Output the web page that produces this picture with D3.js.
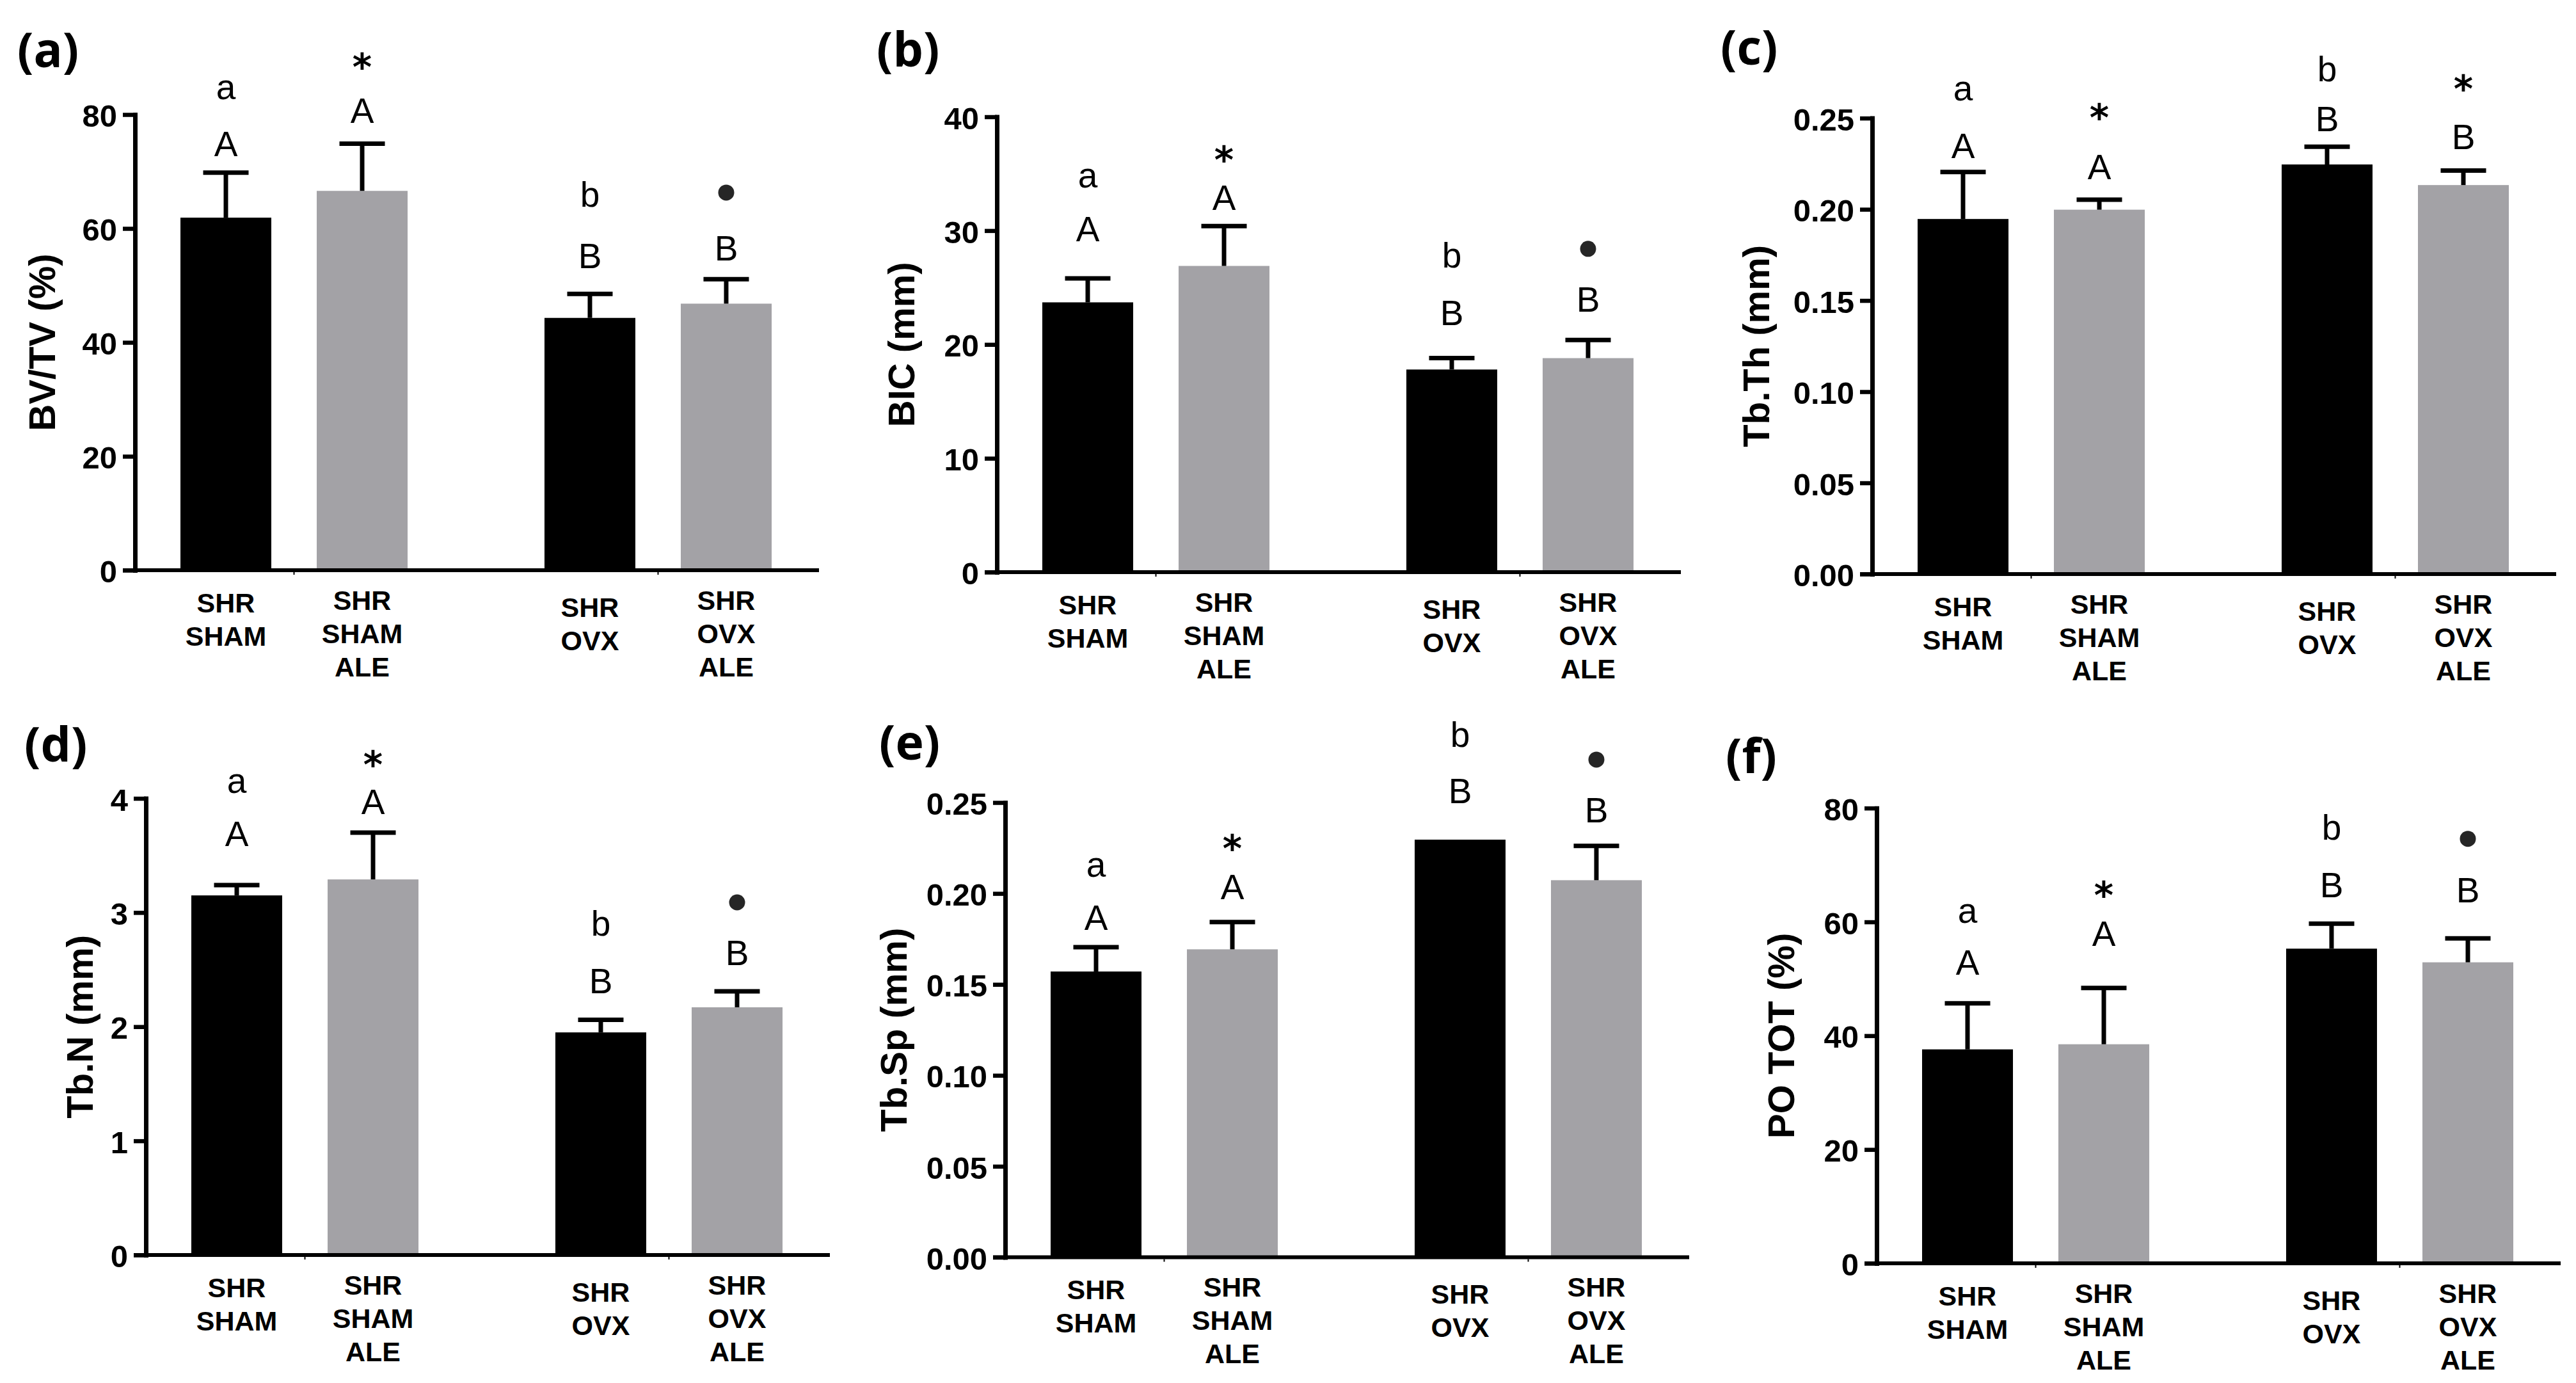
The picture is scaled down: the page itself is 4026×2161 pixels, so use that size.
<!DOCTYPE html>
<html>
<head>
<meta charset="utf-8">
<script src="https://cdn.jsdelivr.net/npm/d3@7"></script>
<style>
  html, body { margin: 0; padding: 0; background: #ffffff; }
  svg { display: block; }
</style>
</head>
<body>
<script>
// ---------------- DATA ----------------
const categories = [["SHR", "SHAM"], ["SHR", "SHAM", "ALE"], ["SHR", "OVX"], ["SHR", "OVX", "ALE"]];
const groups = ["SHAM", "OVX"];
const treatments = ["Vehicle", "ALE"];
const upperMarks = ["A", "A", "B", "B"];

// (a) BV/TV (%)
const bvtvMean = [61.9, 66.6, 44.3, 46.8];
const bvtvSem = [7.9, 8.3, 4.2, 4.3];
const bvtvLower = ["a", "*", "b", "●"];
const bvtvUpperY = [74.9, 80.8, 55.2, 56.6];
const bvtvLowerY = [84.3, 89.7, 66.1, 66.3];
const bvtvTicks = [0, 20, 40, 60, 80];

// (b) BIC (mm)
const bicMean = [23.7, 26.9, 17.8, 18.8];
const bicSem = [2.1, 3.5, 1.0, 1.6];
const bicLower = ["a", "*", "b", "●"];
const bicUpperY = [30.2, 32.9, 22.8, 24.0];
const bicLowerY = [34.6, 36.9, 27.9, 28.4];
const bicTicks = [0, 10, 20, 30, 40];

// (c) Tb.Th (mm)
const tbthMean = [0.1947, 0.1998, 0.2246, 0.2133];
const tbthSem = [0.0258, 0.0055, 0.0097, 0.0080];
const tbthLower = ["a", "*", "b", "*"];
const tbthUpperY = [0.2351, 0.2236, 0.2499, 0.2400];
const tbthLowerY = [0.2646, 0.2544, 0.2772, 0.2702];
const tbthTicks = [0, 0.05, 0.10, 0.15, 0.20, 0.25];

// (d) Tb.N (mm)
const tbnMean = [3.15, 3.29, 1.95, 2.17];
const tbnSem = [0.09, 0.41, 0.11, 0.14];
const tbnLower = ["a", "*", "b", "●"];
const tbnUpperY = [3.694, 3.975, 2.405, 2.652];
const tbnLowerY = [4.126, 4.361, 2.910, 3.089];
const tbnTicks = [0, 1, 2, 3, 4];

// (e) Tb.Sp (mm)
const tbspMean = [0.1571, 0.1693, 0.2296, 0.2073];
const tbspSem = [0.0134, 0.0150, 0, 0.0189];
const tbspLower = ["a", "*", "b", "●"];
const tbspUpperY = [0.1870, 0.2039, 0.2567, 0.2461];
const tbspLowerY = [0.2141, 0.2289, 0.2876, 0.2736];
const tbspTicks = [0, 0.05, 0.10, 0.15, 0.20, 0.25];

// (f) PO TOT (%)
const potMean = [37.6, 38.5, 55.3, 52.9];
const potSem = [8.1, 9.9, 4.4, 4.2];
const potLower = ["a", "*", "b", "●"];
const potUpperY = [52.9, 58.0, 66.5, 65.7];
const potLowerY = [61.4, 66.0, 76.7, 74.6];
const potTicks = [0, 20, 40, 60, 80];

const panels = [
  { tag: "(a)", yLabel: "BV/TV (%)", ticks: bvtvTicks, fmt: "d", mean: bvtvMean, sem: bvtvSem, lower: bvtvLower, upY: bvtvUpperY, lowY: bvtvLowerY },
  { tag: "(b)", yLabel: "BIC (mm)", ticks: bicTicks, fmt: "d", mean: bicMean, sem: bicSem, lower: bicLower, upY: bicUpperY, lowY: bicLowerY },
  { tag: "(c)", yLabel: "Tb.Th (mm)", ticks: tbthTicks, fmt: ".2f", mean: tbthMean, sem: tbthSem, lower: tbthLower, upY: tbthUpperY, lowY: tbthLowerY },
  { tag: "(d)", yLabel: "Tb.N (mm)", ticks: tbnTicks, fmt: "d", mean: tbnMean, sem: tbnSem, lower: tbnLower, upY: tbnUpperY, lowY: tbnLowerY },
  { tag: "(e)", yLabel: "Tb.Sp (mm)", ticks: tbspTicks, fmt: ".2f", mean: tbspMean, sem: tbspSem, lower: tbspLower, upY: tbspUpperY, lowY: tbspLowerY },
  { tag: "(f)", yLabel: "PO TOT (%)", ticks: potTicks, fmt: "d", mean: potMean, sem: potSem, lower: potLower, upY: potUpperY, lowY: potLowerY }
];

// ---------------- LAYOUT (positions / styles) ----------------
const W = 4026, H = 2161;
const layout = [
  { x: 211,  y0: 891,    top: 179,    ylabX: 65,   tagX: 27,   tagY: 105 },
  { x: 1558, y0: 894,    top: 182.5,  ylabX: 1408, tagX: 1370, tagY: 104 },
  { x: 2926, y0: 897,    top: 184.6,  ylabX: 2744, tagX: 2689, tagY: 101 },
  { x: 228,  y0: 1961,   top: 1247.5, ylabX: 124,  tagX: 38,   tagY: 1190 },
  { x: 1571, y0: 1964.5, top: 1254,   ylabX: 1396, tagX: 1374, tagY: 1187 },
  { x: 2933, y0: 1974,   top: 1262.7, ylabX: 2783, tagX: 2697, tagY: 1208 }
];
const BLACK = "#000000", GRAY = "#a3a2a6";
const FONT = "'Liberation Sans', Arial, Helvetica, sans-serif";
const labelFirstLine = [50, 46, 57, 46];  // offset below axis of first label line
const LINE_GAP = 52;
const ANN = 55;  // annotation font size

const svg = d3.select("body").append("svg")
  .attr("width", W).attr("height", H)
  .attr("viewBox", `0 0 ${W} ${H}`)
  .style("background", "#ffffff");

const outer = d3.scaleBand().domain(groups).range([0, 1066]).paddingInner(0.376).paddingOuter(0.1248);
const inner = d3.scaleBand().domain(treatments).range([0, outer.bandwidth()]).paddingInner(1 / 3).paddingOuter(0);
const bw = inner.bandwidth();

panels.forEach((p, i) => {
  const L = layout[i];
  const g = svg.append("g").attr("transform", `translate(${L.x},0)`);
  const maxV = p.ticks[p.ticks.length - 1];
  const y = d3.scaleLinear().domain([0, maxV]).range([L.y0, L.top]);

  const rows = p.mean.map((m, j) => ({
    j, group: groups[j >> 1], treat: treatments[j & 1], mean: m, sem: p.sem[j],
    cat: categories[j], up: upperMarks[j], low: p.lower[j], upY: p.upY[j], lowY: p.lowY[j]
  }));
  const cx = d => outer(d.group) + inner(d.treat) + bw / 2;

  // bars
  g.selectAll("rect.bar").data(rows).join("rect")
    .attr("class", "bar")
    .attr("x", d => outer(d.group) + inner(d.treat))
    .attr("width", bw)
    .attr("y", d => y(d.mean))
    .attr("height", d => y(0) - y(d.mean))
    .attr("fill", d => d.treat === "ALE" ? GRAY : BLACK);

  // error bars (upper only)
  const eb = rows.filter(d => d.sem > 0);
  g.selectAll("line.err").data(eb).join("line")
    .attr("class", "err")
    .attr("x1", cx).attr("x2", cx)
    .attr("y1", d => y(d.mean)).attr("y2", d => y(d.mean + d.sem))
    .attr("stroke", BLACK).attr("stroke-width", 7);
  g.selectAll("line.cap").data(eb).join("line")
    .attr("class", "cap")
    .attr("x1", d => cx(d) - 35.5).attr("x2", d => cx(d) + 35.5)
    .attr("y1", d => y(d.mean + d.sem)).attr("y2", d => y(d.mean + d.sem))
    .attr("stroke", BLACK).attr("stroke-width", 7);

  // y axis
  const axis = d3.axisLeft(y).tickValues(p.ticks).tickSize(19).tickSizeOuter(0).tickPadding(9)
    .tickFormat(d3.format(p.fmt));
  const ag = g.append("g").call(axis);
  ag.select(".domain").attr("stroke", BLACK).attr("stroke-width", 7).attr("stroke-linecap", "square");
  ag.selectAll(".tick line").attr("stroke", BLACK).attr("stroke-width", 6.5);
  ag.selectAll(".tick text")
    .attr("font-family", FONT).attr("font-weight", "bold").attr("font-size", 49)
    .attr("fill", BLACK).attr("dy", "0.38em");

  // x axis line
  g.append("line")
    .attr("x1", -19).attr("x2", 1069)
    .attr("y1", y(0)).attr("y2", y(0))
    .attr("stroke", BLACK).attr("stroke-width", 6);
  // tiny group ticks
  g.selectAll("line.gt").data(groups).join("line")
    .attr("class", "gt")
    .attr("x1", d => outer(d) + outer.bandwidth() / 2).attr("x2", d => outer(d) + outer.bandwidth() / 2)
    .attr("y1", y(0) + 3).attr("y2", y(0) + 7)
    .attr("stroke", BLACK).attr("stroke-width", 2);

  // category labels
  const cl = g.selectAll("text.cat").data(rows).join("text")
    .attr("class", "cat")
    .attr("text-anchor", "middle")
    .attr("font-family", FONT).attr("font-weight", "bold").attr("font-size", 43)
    .attr("fill", BLACK);
  cl.each(function (d) {
    const t = d3.select(this);
    d.cat.forEach((line, k) => {
      t.append("tspan")
        .attr("x", cx(d))
        .attr("y", y(0) + labelFirstLine[d.j] + k * LINE_GAP + 15.5)
        .text(line);
    });
  });

  // upper letters (A / B)
  g.selectAll("text.up").data(rows).join("text")
    .attr("class", "up")
    .attr("x", cx)
    .attr("y", d => y(d.upY) + 0.358 * ANN)
    .attr("text-anchor", "middle")
    .attr("font-family", FONT).attr("font-size", ANN).attr("fill", BLACK)
    .text(d => d.up);

  // lower marks (a / b / * / ●)
  rows.forEach(d => {
    const yy = y(d.lowY);
    if (d.low === "●") {
      g.append("circle").attr("cx", cx(d)).attr("cy", yy).attr("r", 12.5).attr("fill", "#262626");
    } else if (d.low === "*") {
      g.append("text").attr("x", cx(d)).attr("y", yy + 32)
        .attr("text-anchor", "middle").attr("font-family", "'DejaVu Sans', sans-serif").attr("font-weight", "bold")
        .attr("font-size", 58).attr("fill", BLACK).text("*");
    } else {
      const off = d.low === "a" ? 0.26 * ANN : 0.365 * ANN;
      g.append("text").attr("x", cx(d)).attr("y", yy + off)
        .attr("text-anchor", "middle").attr("font-family", FONT)
        .attr("font-size", ANN).attr("fill", BLACK).text(d.low);
    }
  });

  // y axis title
  const midY = (L.y0 + L.top) / 2;
  g.append("text")
    .attr("transform", `translate(${L.ylabX - L.x},${midY}) rotate(-90)`)
    .attr("dy", "0.36em")
    .attr("text-anchor", "middle")
    .attr("font-family", FONT).attr("font-weight", "bold").attr("font-size", 58)
    .attr("fill", BLACK)
    .text(p.yLabel);

  // panel tag
  svg.append("text")
    .attr("x", L.tagX).attr("y", L.tagY)
    .attr("font-family", "'Open Sans', 'Noto Sans', sans-serif").attr("font-weight", "bold")
    .attr("font-size", 75).attr("fill", BLACK)
    .text(p.tag);
});
</script>
</body>
</html>
